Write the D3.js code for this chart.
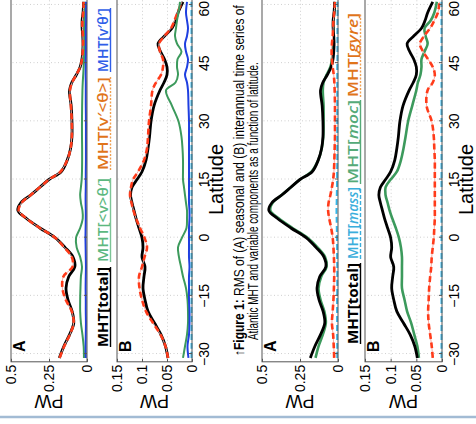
<!DOCTYPE html>
<html>
<head>
<meta charset="utf-8">
<script src="https://cdn.jsdelivr.net/npm/d3@7"></script>
<style>
  html, body { margin: 0; padding: 0; background: #fff; }
  svg { display: block; }
</style>
</head>
<body>
<div id="fig"></div>
<script>
// latitude grid shared by every series
const lat = [-31, -28, -25, -22, -19, -16, -13, -10, -7.5, -5, -2.5, 0, 2.5, 5, 7, 9, 11, 13, 15, 17, 20, 23, 26, 30, 34, 38, 40, 42, 44, 46, 48, 50, 52, 54, 56, 58, 60.8];

// (A) seasonal RMS, PW
const seasTotal = [0.182, 0.152, 0.115, 0.087, 0.098, 0.125, 0.138, 0.12, 0.08, 0.092, 0.145, 0.21, 0.31, 0.40, 0.455, 0.435, 0.37, 0.31, 0.25, 0.17, 0.13, 0.108, 0.099, 0.099, 0.104, 0.115, 0.1, 0.07, 0.045, 0.033, 0.028, 0.026, 0.028, 0.032, 0.032, 0.026, 0.022];
const seasVT    = [0.18, 0.15, 0.113, 0.088, 0.1, 0.14, 0.162, 0.155, 0.095, 0.1, 0.15, 0.21, 0.31, 0.40, 0.45, 0.43, 0.37, 0.31, 0.25, 0.175, 0.13, 0.108, 0.1, 0.1, 0.106, 0.112, 0.098, 0.07, 0.045, 0.033, 0.028, 0.026, 0.027, 0.03, 0.03, 0.025, 0.022];
const seasMeanV = [0.02, 0.022, 0.03, 0.04, 0.045, 0.045, 0.043, 0.04, 0.033, 0.045, 0.068, 0.072, 0.045, 0.028, 0.03, 0.04, 0.045, 0.04, 0.035, 0.033, 0.032, 0.032, 0.033, 0.033, 0.032, 0.03, 0.028, 0.025, 0.022, 0.02, 0.02, 0.018, 0.018, 0.017, 0.016, 0.015, 0.015];
const seasEddy  = [0.008, 0.009, 0.008, 0.007, 0.008, 0.008, 0.009, 0.008, 0.007, 0.008, 0.009, 0.01, 0.009, 0.008, 0.008, 0.009, 0.009, 0.008, 0.008, 0.008, 0.007, 0.007, 0.007, 0.007, 0.008, 0.008, 0.008, 0.009, 0.008, 0.008, 0.007, 0.007, 0.007, 0.007, 0.006, 0.006, 0.006];
const seasMass  = [0.005, 0.005, 0.006, 0.006, 0.006, 0.006, 0.005, 0.005, 0.005, 0.006, 0.006, 0.007, 0.008, 0.009, 0.01, 0.009, 0.008, 0.007, 0.006, 0.006, 0.005, 0.005, 0.005, 0.005, 0.005, 0.005, 0.005, 0.005, 0.005, 0.004, 0.004, 0.004, 0.004, 0.004, 0.004, 0.003, 0.003];
const seasMoc   = [0.148, 0.128, 0.1, 0.08, 0.09, 0.115, 0.128, 0.11, 0.075, 0.085, 0.135, 0.2, 0.3, 0.39, 0.445, 0.43, 0.37, 0.31, 0.25, 0.175, 0.13, 0.107, 0.097, 0.095, 0.095, 0.1, 0.095, 0.075, 0.05, 0.04, 0.035, 0.03, 0.03, 0.03, 0.03, 0.025, 0.02];
const seasGyre  = [0.025, 0.028, 0.032, 0.04, 0.035, 0.03, 0.027, 0.025, 0.025, 0.027, 0.03, 0.035, 0.045, 0.058, 0.065, 0.062, 0.05, 0.04, 0.032, 0.027, 0.024, 0.022, 0.02, 0.02, 0.02, 0.022, 0.024, 0.028, 0.035, 0.04, 0.042, 0.04, 0.035, 0.032, 0.03, 0.025, 0.02];

// (B) interannual RMS, PW
const intTotal = [0.048, 0.053, 0.062, 0.075, 0.088, 0.094, 0.098, 0.096, 0.094, 0.1, 0.098, 0.1, 0.106, 0.112, 0.116, 0.12, 0.123, 0.12, 0.11, 0.1, 0.092, 0.088, 0.085, 0.082, 0.076, 0.064, 0.056, 0.05, 0.05, 0.055, 0.063, 0.068, 0.055, 0.04, 0.033, 0.028, 0.018];
const intVT    = [0.048, 0.053, 0.063, 0.078, 0.092, 0.1, 0.105, 0.106, 0.1, 0.095, 0.09, 0.095, 0.104, 0.112, 0.117, 0.121, 0.124, 0.122, 0.118, 0.108, 0.096, 0.09, 0.088, 0.086, 0.082, 0.079, 0.072, 0.062, 0.058, 0.058, 0.064, 0.066, 0.055, 0.042, 0.035, 0.029, 0.02];
const intMeanV = [0.018, 0.014, 0.01, 0.008, 0.008, 0.009, 0.012, 0.018, 0.022, 0.026, 0.028, 0.02, 0.011, 0.01, 0.01, 0.012, 0.014, 0.016, 0.018, 0.018, 0.018, 0.019, 0.021, 0.027, 0.04, 0.052, 0.033, 0.028, 0.03, 0.029, 0.021, 0.03, 0.034, 0.032, 0.03, 0.027, 0.024];
const intEddy  = [0.007, 0.009, 0.006, 0.005, 0.005, 0.006, 0.006, 0.006, 0.005, 0.006, 0.006, 0.006, 0.006, 0.005, 0.005, 0.006, 0.006, 0.006, 0.006, 0.006, 0.006, 0.006, 0.006, 0.006, 0.007, 0.008, 0.01, 0.014, 0.01, 0.008, 0.012, 0.014, 0.01, 0.008, 0.01, 0.012, 0.01];
const intMass  = [0.001, 0.001, 0.001, 0.001, 0.001, 0.001, 0.001, 0.001, 0.001, 0.001, 0.001, 0.001, 0.001, 0.001, 0.001, 0.001, 0.001, 0.001, 0.001, 0.001, 0.001, 0.001, 0.001, 0.001, 0.001, 0.001, 0.001, 0.001, 0.001, 0.001, 0.001, 0.001, 0.001, 0.001, 0.001, 0.001, 0.001];
const intMoc   = [0.045, 0.048, 0.054, 0.06, 0.068, 0.073, 0.078, 0.078, 0.078, 0.078, 0.08, 0.084, 0.09, 0.097, 0.102, 0.106, 0.11, 0.11, 0.1, 0.088, 0.08, 0.075, 0.071, 0.066, 0.058, 0.05, 0.047, 0.042, 0.04, 0.04, 0.034, 0.028, 0.032, 0.034, 0.022, 0.015, 0.01];
const intGyre  = [0.018, 0.02, 0.023, 0.026, 0.027, 0.026, 0.025, 0.023, 0.021, 0.02, 0.018, 0.016, 0.015, 0.014, 0.014, 0.014, 0.014, 0.014, 0.014, 0.014, 0.014, 0.015, 0.016, 0.02, 0.03, 0.028, 0.018, 0.014, 0.018, 0.027, 0.037, 0.043, 0.035, 0.023, 0.015, 0.008, 0.005];

// ticks
const latTicks = [-30, -15, 0, 15, 30, 45, 60];
const seasTicks = [0, 0.25, 0.5];
const intTicks = [0, 0.05, 0.1, 0.15];

// styles per component
const styles = {
  total: {color: "#000", width: 2.8},
  vt:    {color: "#ff3b1a", width: 2.6, dash: "6,3.5", pink: true},
  meanv: {color: "#3c9a5c", width: 2},
  eddy:  {color: "#1f3fe0", width: 2},
  mass:  {color: "#33b8ec", width: 2, dash: "6,3"},
  moc:   {color: "#3c9a5c", width: 2.6},
  gyre:  {color: "#ff3b1a", width: 2.6, dash: "6,3.5", pink: true}
};

// whole figure is drawn upright (424 wide, 476 tall) then turned a quarter to the left
const W = 476, H = 424;
const svg = d3.select("#fig").append("svg").attr("width", W).attr("height", H);
const fig = svg.append("g").attr("transform", "translate(0," + H + ") rotate(-90)");

const x = d3.scaleLinear().domain([-32, 62]).range([62.2, 426.8]);
const axisFont = "Liberation Sans, Arial, sans-serif";

const panels = [
  {top: 11, bottom: 87, max: 0.5, ticks: seasTicks, name: "A", latLabels: false,
   series: [["total", seasTotal], ["meanv", seasMeanV], ["eddy", seasEddy], ["vt", seasVT]]},
  {top: 117, bottom: 192, max: 0.15, ticks: intTicks, name: "B", latLabels: true,
   series: [["total", intTotal], ["vt", intVT], ["meanv", intMeanV], ["eddy", intEddy], ["mass", intMass]]},
  {top: 262, bottom: 338, max: 0.5, ticks: seasTicks, name: "A", latLabels: false,
   series: [["moc", seasMoc], ["total", seasTotal], ["gyre", seasGyre], ["mass", seasMass]]},
  {top: 365, bottom: 442, max: 0.15, ticks: intTicks, name: "B", latLabels: true,
   series: [["moc", intMoc], ["total", intTotal], ["gyre", intGyre], ["mass", intMass]]}
];

panels.forEach(p => {
  const y = d3.scaleLinear().domain([0, p.max]).range([p.bottom, p.top]);
  const g = fig.append("g");
  const h = p.bottom - p.top;

  // dotted grid
  g.append("g")
    .attr("transform", "translate(0," + p.bottom + ")")
    .call(d3.axisBottom(x).tickValues(latTicks).tickSize(-h).tickFormat(""))
    .call(a => a.select(".domain").remove())
    .selectAll("line").attr("stroke", "#c4c4c4").attr("stroke-width", 0.8).attr("stroke-dasharray", "1,2.5");
  g.append("g")
    .attr("transform", "translate(" + x(-32) + ",0)")
    .call(d3.axisLeft(y).tickValues(p.ticks.filter(t => t > 0 && t < p.max)).tickSize(-(x(62) - x(-32))).tickFormat(""))
    .call(a => a.select(".domain").remove())
    .selectAll("line").attr("stroke", "#c4c4c4").attr("stroke-width", 0.8).attr("stroke-dasharray", "1,2.5");

  // curves
  p.series.forEach(([key, vals]) => {
    const s = styles[key];
    const line = d3.line().x((d, i) => x(lat[i])).y(d => y(d)).curve(d3.curveCatmullRom);
    if (s.pink) {
      g.append("path").datum(vals).attr("d", line).attr("fill", "none")
        .attr("stroke", "#f7a8a0").attr("stroke-width", 1);
    }
    g.append("path").datum(vals).attr("d", line).attr("fill", "none")
      .attr("stroke", s.color).attr("stroke-width", s.width)
      .attr("stroke-dasharray", s.dash || null).attr("stroke-linejoin", "round");
  });

  // box
  g.append("rect").attr("x", x(-32)).attr("y", p.top)
    .attr("width", x(62) - x(-32)).attr("height", h)
    .attr("fill", "none").attr("stroke", "#555").attr("stroke-width", 1);

  // small inward ticks
  g.append("g")
    .attr("transform", "translate(0," + p.bottom + ")")
    .call(d3.axisBottom(x).tickValues(latTicks).tickSize(-3).tickFormat(""))
    .call(a => a.select(".domain").remove())
    .selectAll("line").attr("stroke", "#555");
  g.append("g")
    .attr("transform", "translate(" + x(-32) + ",0)")
    .call(d3.axisLeft(y).tickValues(p.ticks).tickSize(-3).tickFormat(""))
    .call(a => a.select(".domain").remove())
    .selectAll("line").attr("stroke", "#555");

  // PW tick labels
  g.selectAll(".ytl").data(p.ticks).enter().append("text")
    .attr("x", x(-32) - 3).attr("y", d => y(d)).attr("dy", "0.36em")
    .attr("text-anchor", "end").attr("font-family", axisFont).attr("font-size", 14)
    .text(d => String(d));

  // latitude tick labels (the last one is kept inside the page edge)
  if (p.latLabels) {
    g.selectAll(".xtl").data(latTicks).enter().append("text")
      .attr("x", d => d === 60 ? x(d) + 4 : x(d)).attr("y", p.bottom + 17)
      .attr("text-anchor", d => d === 60 ? "end" : "middle")
      .attr("font-family", axisFont).attr("font-size", 14)
      .text(d => d < 0 ? "\u2212" + Math.abs(d) : String(d));
    g.append("text").attr("x", x(15)).attr("y", p.bottom + 31)
      .attr("text-anchor", "middle").attr("font-family", axisFont).attr("font-size", 20)
      .text("Latitude");
  }

  // PW axis title
  g.append("text")
    .attr("transform", "translate(29," + (p.top + h / 2) + ") rotate(-90)")
    .attr("text-anchor", "middle").attr("font-family", axisFont).attr("font-size", 18)
    .text("PW");

  // panel letter
  g.append("text").attr("x", 72).attr("y", p.top + 14)
    .attr("font-family", axisFont).attr("font-size", 16).attr("font-weight", "bold")
    .text(p.name);
});

// legends
const legendFont = "Open Sans, Liberation Sans, sans-serif";
const legend1 = [
  {parts: [["MHT[total]", false]], color: "#000", line: "#000", dash: null, bold: true, u0: 77, u1: 157},
  {parts: [["MHT[<v>\u03b8\u2032]", false]], color: "#5cb87f", line: "#7cc496", dash: null, u0: 162, u1: 246},
  {parts: [["MHT[v\u2032<\u03b8>]", false]], color: "#e0741a", line: "#f0a050", dash: "2,1.5", u0: 254, u1: 347},
  {parts: [["MHT[v\u2032\u03b8\u2032]", false]], color: "#2f5ee8", line: "#2f5ee8", dash: null, u0: 352, u1: 416}
];
const legend2 = [
  {parts: [["MHT[total]", false]], color: "#000", line: "#000", dash: null, bold: true, u0: 80, u1: 161},
  {parts: [["MHT[", false], ["mass", true], ["]", false]], color: "#3aaedc", line: "#3aaedc", dash: "4,2", u0: 165, u1: 237},
  {parts: [["MHT[", false], ["moc", true], ["]", false]], color: "#55aa78", line: "#55aa78", dash: null, u0: 240, u1: 324},
  {parts: [["MHT[", false], ["gyre", true], ["]", false]], color: "#e0741a", line: "#f0a050", dash: "2,1.5", u0: 327, u1: 411}
];

// squeeze a text horizontally so that it spans exactly len pixels
function fitText(t, u0, base, len) {
  const natural = t.node().getComputedTextLength();
  t.attr("x", 0).attr("y", 0)
    .attr("transform", "translate(" + u0 + "," + base + ") scale(" + (len / natural) + ",1)");
}

function drawLegend(items, base) {
  items.forEach(it => {
    const t = fig.append("text")
      .attr("font-family", legendFont).attr("font-size", 14)
      .attr("font-weight", it.bold ? "bold" : "600")
      .attr("fill", it.color);
    it.parts.forEach(([s, ital]) => t.append("tspan").attr("font-style", ital ? "italic" : "normal").text(s));
    fitText(t, it.u0, base, it.u1 - it.u0);
    fig.append("line").attr("x1", it.u0).attr("x2", it.u1)
      .attr("y1", base + 2.5).attr("y2", base + 2.5)
      .attr("stroke", it.line).attr("stroke-width", 1.4).attr("stroke-dasharray", it.dash);
  });
}
drawLegend(legend1, 108);
drawLegend(legend2, 358);

// caption
const capFont = "Liberation Sans Narrow, Liberation Sans, sans-serif";
const cap1 = fig.append("text").attr("font-family", capFont).attr("font-size", 14);
cap1.append("tspan").attr("font-weight", "bold").text("\u2191Figure 1:");
cap1.append("tspan").text(" RMS of (A) seasonal and (B) interannual  time series of");
fitText(cap1, 68, 244, 351);
const cap2 = fig.append("text").attr("font-family", capFont).attr("font-size", 14)
  .text("Atlantic MHT and variable components as a function of latitude.");
fitText(cap2, 84, 258, 278);

// page border line at the bottom
fig.append("line").attr("x1", 7).attr("x2", 7).attr("y1", 0).attr("y2", W)
  .attr("stroke", "#a2bbd4").attr("stroke-width", 2.5);
</script>
</body>
</html>
